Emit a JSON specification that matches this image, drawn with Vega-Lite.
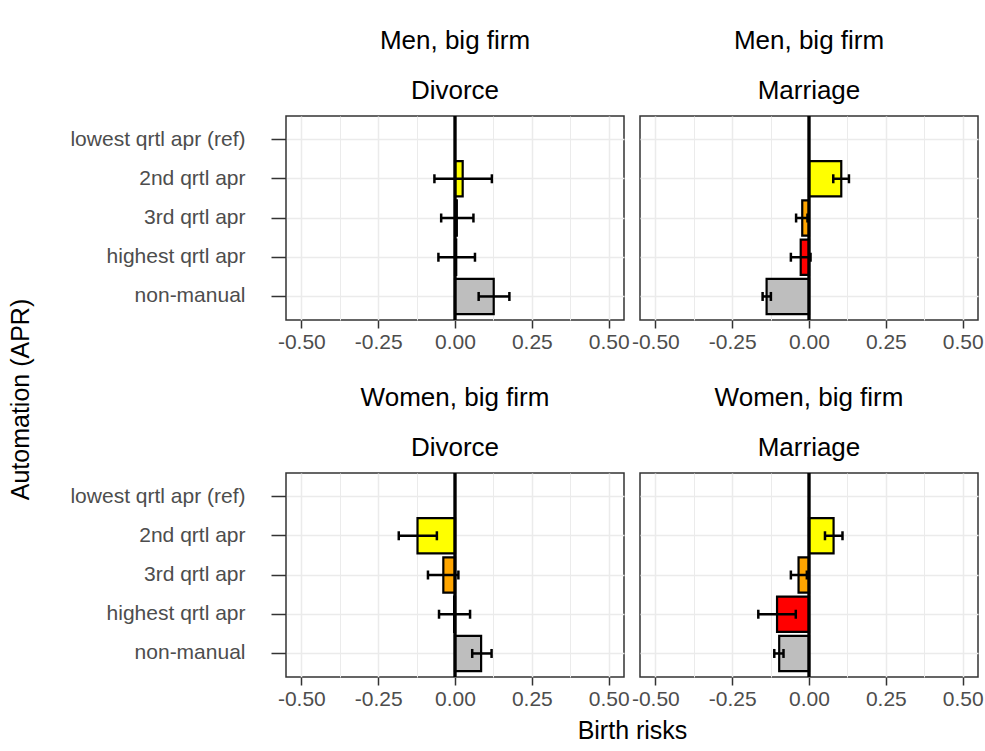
{
  "$schema": "https://vega.github.io/schema/vega-lite/v6.json",
  "background": "white",
  "padding": {"left": 7, "top": 27, "right": 5, "bottom": 5},
  "config": {
    "font": "Liberation Sans",
    "view": {"stroke": "#333333", "strokeWidth": 1.5},
    "axis": {
      "labelFont": "Liberation Sans", "labelFontSize": 21, "labelColor": "#4D4D4D",
      "tickColor": "#333333", "tickWidth": 1.5, "domain": false,
      "gridColor": "#EBEBEB", "gridWidth": 1.5,
      "titleFont": "Liberation Sans", "titleFontSize": 25, "titleFontWeight": "normal", "titleColor": "black"
    },
    "title": {
      "font": "Liberation Sans", "fontSize": 26, "fontWeight": "normal", "color": "black",
      "subtitleFont": "Liberation Sans", "subtitleFontSize": 26, "subtitleColor": "black",
      "anchor": "middle", "frame": "group", "offset": 11, "subtitlePadding": 24
    }
  },
  "datasets": {
    "d": [
      {"group": "Men, big firm", "outcome": "Divorce", "cat": "2nd qrtl apr", "value": 0.025, "lo": -0.067, "hi": 0.12},
      {"group": "Men, big firm", "outcome": "Divorce", "cat": "3rd qrtl apr", "value": 0.006, "lo": -0.045, "hi": 0.06},
      {"group": "Men, big firm", "outcome": "Divorce", "cat": "highest qrtl apr", "value": 0.004, "lo": -0.054, "hi": 0.065},
      {"group": "Men, big firm", "outcome": "Divorce", "cat": "non-manual", "value": 0.126, "lo": 0.077, "hi": 0.177},
      {"group": "Men, big firm", "outcome": "Marriage", "cat": "2nd qrtl apr", "value": 0.105, "lo": 0.079, "hi": 0.13},
      {"group": "Men, big firm", "outcome": "Marriage", "cat": "3rd qrtl apr", "value": -0.022, "lo": -0.042, "hi": -0.005},
      {"group": "Men, big firm", "outcome": "Marriage", "cat": "highest qrtl apr", "value": -0.027, "lo": -0.059, "hi": 0.005},
      {"group": "Men, big firm", "outcome": "Marriage", "cat": "non-manual", "value": -0.138, "lo": -0.151, "hi": -0.124},
      {"group": "Women, big firm", "outcome": "Divorce", "cat": "2nd qrtl apr", "value": -0.122, "lo": -0.183, "hi": -0.059},
      {"group": "Women, big firm", "outcome": "Divorce", "cat": "3rd qrtl apr", "value": -0.038, "lo": -0.088, "hi": 0.011},
      {"group": "Women, big firm", "outcome": "Divorce", "cat": "highest qrtl apr", "value": -0.003, "lo": -0.052, "hi": 0.049},
      {"group": "Women, big firm", "outcome": "Divorce", "cat": "non-manual", "value": 0.085, "lo": 0.056, "hi": 0.119},
      {"group": "Women, big firm", "outcome": "Marriage", "cat": "2nd qrtl apr", "value": 0.08, "lo": 0.052, "hi": 0.109},
      {"group": "Women, big firm", "outcome": "Marriage", "cat": "3rd qrtl apr", "value": -0.034, "lo": -0.059, "hi": -0.007},
      {"group": "Women, big firm", "outcome": "Marriage", "cat": "highest qrtl apr", "value": -0.104, "lo": -0.165, "hi": -0.043},
      {"group": "Women, big firm", "outcome": "Marriage", "cat": "non-manual", "value": -0.097, "lo": -0.113, "hi": -0.083}
    ]
  },
  "bounds": "flush",
  "columns": 2,
  "spacing": {"row": 153, "column": 16},
  "concat": [
    {
      "title": {"text": "Men, big firm", "subtitle": "Divorce"},
      "width": 338, "height": 204,
      "data": {"name": "d"},
      "transform": [{"filter": "datum.group === 'Men, big firm' && datum.outcome === 'Divorce'"}],
      "layer": [
        {
          "encoding": {
            "y": {"field": "cat", "type": "nominal", "sort": null,
              "scale": {"domain": ["lowest qrtl apr (ref)", "2nd qrtl apr", "3rd qrtl apr", "highest qrtl apr", "non-manual"], "paddingInner": 0.1, "paddingOuter": 0.15},
              "axis": {"title": "Automation (APR)", "titleY": 283, "titlePadding": 53, "bandPosition": 0.5, "tickSize": 15, "labelPadding": 26, "grid": true}}
          },
          "layer": [
            {"mark": {"type": "bar", "stroke": "black", "strokeWidth": 2.2},
             "encoding": {
               "x": {"field": "value", "type": "quantitative", "title": null,
                 "scale": {"domain": [-0.55, 0.55], "nice": false, "zero": false},
                 "axis": {"values": [-0.5, -0.375, -0.25, -0.125, 0, 0.125, 0.25, 0.375, 0.5], "tickSize": 8, "labelPadding": 3, "labelFlush": false,
                   "labelExpr": "abs(datum.value*4 - round(datum.value*4)) > 0.01 ? '' : replace(format(datum.value, '.2f'), '−', '-')",
                   "tickOpacity": {"condition": {"test": "abs(datum.value*4 - round(datum.value*4)) > 0.01", "value": 0}, "value": 1},
                   "gridWidth": {"condition": {"test": "abs(datum.value*4 - round(datum.value*4)) > 0.01", "value": 1}, "value": 1.5}}},
               "fill": {"field": "cat", "type": "nominal", "legend": null,
                 "scale": {"domain": ["2nd qrtl apr", "3rd qrtl apr", "highest qrtl apr", "non-manual"], "range": ["#FFFF00", "#FFA500", "#FF0000", "#BEBEBE"]}}
             }},
            {"mark": {"type": "rule", "color": "black", "strokeWidth": 2.5},
             "encoding": {"x": {"field": "lo", "type": "quantitative", "title": null, "scale": {"domain": [-0.55, 0.55], "nice": false, "zero": false}}, "x2": {"field": "hi"}}},
            {"mark": {"type": "tick", "color": "black", "thickness": 2.5, "size": 9, "opacity": 1},
             "encoding": {"x": {"field": "lo", "type": "quantitative", "title": null, "scale": {"domain": [-0.55, 0.55], "nice": false, "zero": false}}}},
            {"mark": {"type": "tick", "color": "black", "thickness": 2.5, "size": 9, "opacity": 1},
             "encoding": {"x": {"field": "hi", "type": "quantitative", "title": null, "scale": {"domain": [-0.55, 0.55], "nice": false, "zero": false}}}}
          ]
        },
        {"mark": {"type": "rule", "color": "black", "strokeWidth": 2.5},
         "encoding": {"x": {"datum": 0, "type": "quantitative", "title": null, "scale": {"domain": [-0.55, 0.55], "nice": false, "zero": false}}}}
      ]
    },
    {
      "title": {"text": "Men, big firm", "subtitle": "Marriage"},
      "width": 338, "height": 204,
      "data": {"name": "d"},
      "transform": [{"filter": "datum.group === 'Men, big firm' && datum.outcome === 'Marriage'"}],
      "layer": [
        {
          "encoding": {
            "y": {"field": "cat", "type": "nominal", "sort": null,
              "scale": {"domain": ["lowest qrtl apr (ref)", "2nd qrtl apr", "3rd qrtl apr", "highest qrtl apr", "non-manual"], "paddingInner": 0.1, "paddingOuter": 0.15},
              "axis": {"title": null, "bandPosition": 0.5, "ticks": false, "labels": false, "grid": true}}
          },
          "layer": [
            {"mark": {"type": "bar", "stroke": "black", "strokeWidth": 2.2},
             "encoding": {
               "x": {"field": "value", "type": "quantitative", "title": null,
                 "scale": {"domain": [-0.55, 0.55], "nice": false, "zero": false},
                 "axis": {"values": [-0.5, -0.375, -0.25, -0.125, 0, 0.125, 0.25, 0.375, 0.5], "tickSize": 8, "labelPadding": 3, "labelFlush": false,
                   "labelExpr": "abs(datum.value*4 - round(datum.value*4)) > 0.01 ? '' : replace(format(datum.value, '.2f'), '−', '-')",
                   "tickOpacity": {"condition": {"test": "abs(datum.value*4 - round(datum.value*4)) > 0.01", "value": 0}, "value": 1},
                   "gridWidth": {"condition": {"test": "abs(datum.value*4 - round(datum.value*4)) > 0.01", "value": 1}, "value": 1.5}}},
               "fill": {"field": "cat", "type": "nominal", "legend": null,
                 "scale": {"domain": ["2nd qrtl apr", "3rd qrtl apr", "highest qrtl apr", "non-manual"], "range": ["#FFFF00", "#FFA500", "#FF0000", "#BEBEBE"]}}
             }},
            {"mark": {"type": "rule", "color": "black", "strokeWidth": 2.5},
             "encoding": {"x": {"field": "lo", "type": "quantitative", "title": null, "scale": {"domain": [-0.55, 0.55], "nice": false, "zero": false}}, "x2": {"field": "hi"}}},
            {"mark": {"type": "tick", "color": "black", "thickness": 2.5, "size": 9, "opacity": 1},
             "encoding": {"x": {"field": "lo", "type": "quantitative", "title": null, "scale": {"domain": [-0.55, 0.55], "nice": false, "zero": false}}}},
            {"mark": {"type": "tick", "color": "black", "thickness": 2.5, "size": 9, "opacity": 1},
             "encoding": {"x": {"field": "hi", "type": "quantitative", "title": null, "scale": {"domain": [-0.55, 0.55], "nice": false, "zero": false}}}}
          ]
        },
        {"mark": {"type": "rule", "color": "black", "strokeWidth": 2.5},
         "encoding": {"x": {"datum": 0, "type": "quantitative", "title": null, "scale": {"domain": [-0.55, 0.55], "nice": false, "zero": false}}}}
      ]
    },
    {
      "title": {"text": "Women, big firm", "subtitle": "Divorce"},
      "width": 338, "height": 204,
      "data": {"name": "d"},
      "transform": [{"filter": "datum.group === 'Women, big firm' && datum.outcome === 'Divorce'"}],
      "layer": [
        {
          "encoding": {
            "y": {"field": "cat", "type": "nominal", "sort": null,
              "scale": {"domain": ["lowest qrtl apr (ref)", "2nd qrtl apr", "3rd qrtl apr", "highest qrtl apr", "non-manual"], "paddingInner": 0.1, "paddingOuter": 0.15},
              "axis": {"title": null, "bandPosition": 0.5, "tickSize": 15, "labelPadding": 26, "grid": true}}
          },
          "layer": [
            {"mark": {"type": "bar", "stroke": "black", "strokeWidth": 2.2},
             "encoding": {
               "x": {"field": "value", "type": "quantitative", "title": "Birth risks",
                 "scale": {"domain": [-0.55, 0.55], "nice": false, "zero": false},
                 "axis": {"titleX": 346, "titlePadding": 9, "values": [-0.5, -0.375, -0.25, -0.125, 0, 0.125, 0.25, 0.375, 0.5], "tickSize": 8, "labelPadding": 3, "labelFlush": false,
                   "labelExpr": "abs(datum.value*4 - round(datum.value*4)) > 0.01 ? '' : replace(format(datum.value, '.2f'), '−', '-')",
                   "tickOpacity": {"condition": {"test": "abs(datum.value*4 - round(datum.value*4)) > 0.01", "value": 0}, "value": 1},
                   "gridWidth": {"condition": {"test": "abs(datum.value*4 - round(datum.value*4)) > 0.01", "value": 1}, "value": 1.5}}},
               "fill": {"field": "cat", "type": "nominal", "legend": null,
                 "scale": {"domain": ["2nd qrtl apr", "3rd qrtl apr", "highest qrtl apr", "non-manual"], "range": ["#FFFF00", "#FFA500", "#FF0000", "#BEBEBE"]}}
             }},
            {"mark": {"type": "rule", "color": "black", "strokeWidth": 2.5},
             "encoding": {"x": {"field": "lo", "type": "quantitative", "title": "Birth risks", "scale": {"domain": [-0.55, 0.55], "nice": false, "zero": false}}, "x2": {"field": "hi"}}},
            {"mark": {"type": "tick", "color": "black", "thickness": 2.5, "size": 9, "opacity": 1},
             "encoding": {"x": {"field": "lo", "type": "quantitative", "title": "Birth risks", "scale": {"domain": [-0.55, 0.55], "nice": false, "zero": false}}}},
            {"mark": {"type": "tick", "color": "black", "thickness": 2.5, "size": 9, "opacity": 1},
             "encoding": {"x": {"field": "hi", "type": "quantitative", "title": "Birth risks", "scale": {"domain": [-0.55, 0.55], "nice": false, "zero": false}}}}
          ]
        },
        {"mark": {"type": "rule", "color": "black", "strokeWidth": 2.5},
         "encoding": {"x": {"datum": 0, "type": "quantitative", "title": "Birth risks", "scale": {"domain": [-0.55, 0.55], "nice": false, "zero": false}}}}
      ]
    },
    {
      "title": {"text": "Women, big firm", "subtitle": "Marriage"},
      "width": 338, "height": 204,
      "data": {"name": "d"},
      "transform": [{"filter": "datum.group === 'Women, big firm' && datum.outcome === 'Marriage'"}],
      "layer": [
        {
          "encoding": {
            "y": {"field": "cat", "type": "nominal", "sort": null,
              "scale": {"domain": ["lowest qrtl apr (ref)", "2nd qrtl apr", "3rd qrtl apr", "highest qrtl apr", "non-manual"], "paddingInner": 0.1, "paddingOuter": 0.15},
              "axis": {"title": null, "bandPosition": 0.5, "ticks": false, "labels": false, "grid": true}}
          },
          "layer": [
            {"mark": {"type": "bar", "stroke": "black", "strokeWidth": 2.2},
             "encoding": {
               "x": {"field": "value", "type": "quantitative", "title": null,
                 "scale": {"domain": [-0.55, 0.55], "nice": false, "zero": false},
                 "axis": {"values": [-0.5, -0.375, -0.25, -0.125, 0, 0.125, 0.25, 0.375, 0.5], "tickSize": 8, "labelPadding": 3, "labelFlush": false,
                   "labelExpr": "abs(datum.value*4 - round(datum.value*4)) > 0.01 ? '' : replace(format(datum.value, '.2f'), '−', '-')",
                   "tickOpacity": {"condition": {"test": "abs(datum.value*4 - round(datum.value*4)) > 0.01", "value": 0}, "value": 1},
                   "gridWidth": {"condition": {"test": "abs(datum.value*4 - round(datum.value*4)) > 0.01", "value": 1}, "value": 1.5}}},
               "fill": {"field": "cat", "type": "nominal", "legend": null,
                 "scale": {"domain": ["2nd qrtl apr", "3rd qrtl apr", "highest qrtl apr", "non-manual"], "range": ["#FFFF00", "#FFA500", "#FF0000", "#BEBEBE"]}}
             }},
            {"mark": {"type": "rule", "color": "black", "strokeWidth": 2.5},
             "encoding": {"x": {"field": "lo", "type": "quantitative", "title": null, "scale": {"domain": [-0.55, 0.55], "nice": false, "zero": false}}, "x2": {"field": "hi"}}},
            {"mark": {"type": "tick", "color": "black", "thickness": 2.5, "size": 9, "opacity": 1},
             "encoding": {"x": {"field": "lo", "type": "quantitative", "title": null, "scale": {"domain": [-0.55, 0.55], "nice": false, "zero": false}}}},
            {"mark": {"type": "tick", "color": "black", "thickness": 2.5, "size": 9, "opacity": 1},
             "encoding": {"x": {"field": "hi", "type": "quantitative", "title": null, "scale": {"domain": [-0.55, 0.55], "nice": false, "zero": false}}}}
          ]
        },
        {"mark": {"type": "rule", "color": "black", "strokeWidth": 2.5},
         "encoding": {"x": {"datum": 0, "type": "quantitative", "title": null, "scale": {"domain": [-0.55, 0.55], "nice": false, "zero": false}}}}
      ]
    }
  ]
}
